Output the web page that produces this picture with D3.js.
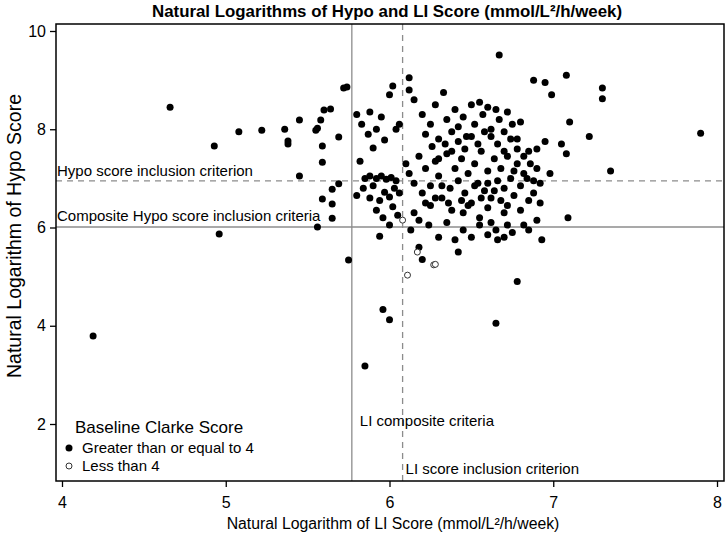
<!DOCTYPE html>
<html><head><meta charset="utf-8">
<script src="https://cdn.jsdelivr.net/npm/d3@7"></script>
<style>body{margin:0;background:#fff}svg{display:block}text{font-family:"Liberation Sans",Arial,sans-serif}</style>
</head><body><svg id="c" width="728" height="539"></svg>
<script>
const xTicks=[4,5,6,7,8];
const yTicks=[2,4,6,8,10];
// Baseline Clarke score >= 4 (filled)
const geX=[4.19,4.66,4.93,4.96,5.08,5.22,5.36,5.38,5.38,5.45,5.45,5.55,5.56,5.58,5.60,5.64,5.72,5.74,5.59,5.69,5.59,5.65,5.69,5.59,5.65,5.65,5.56,5.75,
5.80,5.83,5.87,5.88,5.90,5.92,5.95,5.97,6.00,6.02,6.04,6.06,5.82,5.85,5.88,5.92,5.95,5.98,6.01,6.04,5.80,5.84,5.88,5.90,5.94,5.97,6.00,6.03,6.06,5.92,5.96,6.02,5.94,6.00,6.05,5.85,5.96,6.00,
6.12,6.12,6.15,6.20,6.22,6.25,6.28,6.30,6.33,6.35,6.38,6.40,6.42,6.45,6.47,6.50,6.52,6.55,6.57,6.60,6.62,6.65,6.67,6.70,6.72,6.75,6.78,6.80,6.67,6.88,6.95,6.99,7.08,7.30,7.30,7.22,7.90,7.10,7.05,6.90,6.85,6.95,
6.10,6.12,6.15,6.18,6.20,6.22,6.25,6.28,6.30,6.32,6.35,6.37,6.40,6.42,6.44,6.46,6.48,6.50,6.52,6.54,6.56,6.58,6.60,6.62,6.64,6.66,6.68,6.70,6.72,6.74,6.76,6.78,6.80,6.82,6.85,6.88,6.92,6.98,7.08,7.35,6.45,6.55,6.60,6.38,6.25,6.15,6.70,6.80,
6.13,6.18,6.20,6.30,6.40,6.42,6.45,6.50,6.55,6.60,6.65,6.70,6.75,6.82,6.85,6.93,7.09,6.78,6.65,
6.62,6.66,6.70,6.74,6.78,6.82,6.86,6.90,6.58,6.54,6.50,6.46,6.42,6.38,6.34,6.30,6.26,6.60,6.64,6.68,6.72,6.76,6.84,6.88,6.92,6.56,6.52,6.48,6.44,6.36,6.32,6.28,6.22,6.18,6.24,6.35,6.62,6.72,6.90,6.66];
const geY=[3.79,8.45,7.66,5.87,7.95,7.98,8.00,7.76,7.70,8.19,7.05,7.98,8.02,8.19,8.39,8.41,8.84,8.86,7.66,7.84,7.33,6.78,6.89,6.58,6.48,6.19,6.01,5.34,
8.30,8.10,7.90,8.35,7.62,8.00,8.25,7.78,8.70,8.88,8.00,8.10,7.35,7.00,7.05,7.00,7.05,6.98,7.02,6.95,6.65,6.80,6.60,6.85,6.55,6.72,6.62,6.80,6.70,6.35,6.20,6.42,5.82,6.05,6.25,3.18,4.33,4.12,
9.05,8.80,8.60,8.30,7.90,8.10,8.50,7.80,8.75,8.20,7.95,8.40,8.05,8.25,7.85,8.50,8.10,8.55,8.30,8.45,8.00,8.40,8.20,7.95,8.35,8.10,7.80,8.15,9.51,9.00,8.95,8.70,9.10,8.84,8.62,7.85,7.92,8.15,7.70,7.60,7.55,7.75,
7.30,7.10,6.90,7.45,6.70,7.20,6.85,7.35,7.05,6.60,7.50,6.80,7.20,6.95,7.40,6.70,7.10,6.50,7.30,6.90,7.55,6.75,7.15,6.60,7.40,6.95,7.20,6.80,7.45,7.00,6.65,7.30,6.85,7.10,6.55,6.95,6.90,7.10,7.50,7.15,6.30,6.20,6.40,6.35,6.45,6.30,6.30,6.35,
5.95,5.60,5.35,5.80,5.75,5.50,5.95,5.80,6.05,5.85,5.95,5.80,5.90,6.05,5.95,5.75,6.20,4.90,4.05,
7.85,7.70,7.55,7.80,7.60,7.45,7.30,7.20,7.95,7.70,7.85,7.60,7.75,7.55,7.70,7.40,7.65,6.90,6.75,6.55,6.45,7.15,7.00,6.70,6.50,6.60,6.85,6.45,6.55,6.50,6.85,6.60,6.50,6.15,6.05,6.10,6.10,6.05,6.15,5.75];
// Baseline Clarke score < 4 (open)
const ltX=[6.08,6.17,6.27,6.28,6.11];
const ltY=[6.15,5.50,5.24,5.25,5.03];
const refLI={composite:5.77,inclusion:6.08};
const refHypo={composite:6.01,inclusion:6.95};

const svg=d3.select("#c");
const L=56,R=724,T=24,B=481;
const x=d3.scaleLinear().domain([3.9634,8.0427]).range([L,R]);
const y=d3.scaleLinear().domain([10.1425,0.8397]).range([T,B]);
const grey="#8c8c8c";

svg.append("text").attr("x",387).attr("y",17).attr("text-anchor","middle")
 .attr("font-weight","bold").attr("font-size",17).attr("textLength",470).attr("lengthAdjust","spacingAndGlyphs")
 .text("Natural Logarithms of Hypo and LI Score (mmol/L²/h/week)");

// reference lines
svg.append("line").attr("x1",x(refLI.composite)).attr("x2",x(refLI.composite)).attr("y1",T).attr("y2",B).attr("stroke",grey).attr("stroke-width",1.3);
svg.append("line").attr("x1",x(refLI.inclusion)).attr("x2",x(refLI.inclusion)).attr("y1",T).attr("y2",B).attr("stroke",grey).attr("stroke-width",1.3).attr("stroke-dasharray","6,5");
svg.append("line").attr("x1",L).attr("x2",R).attr("y1",y(refHypo.composite)).attr("y2",y(refHypo.composite)).attr("stroke",grey).attr("stroke-width",1.3);
svg.append("line").attr("x1",L).attr("x2",R).attr("y1",y(refHypo.inclusion)).attr("y2",y(refHypo.inclusion)).attr("stroke",grey).attr("stroke-width",1.3).attr("stroke-dasharray","6,5");

const lab=(tx,ty,s)=>svg.append("text").attr("x",tx).attr("y",ty).attr("font-size",15).attr("fill","#000").text(s);
lab(L+1,y(refHypo.inclusion)-5,"Hypo score inclusion criterion");
lab(L+1,y(refHypo.composite)-6,"Composite Hypo score inclusion criteria");
lab(x(refLI.composite)+8,426,"LI composite criteria");
lab(x(refLI.inclusion)+3,474,"LI score inclusion criterion");

// points
svg.append("g").selectAll("circle").data(geX.map((v,i)=>[v,geY[i]])).join("circle")
 .attr("cx",d=>x(d[0])).attr("cy",d=>y(d[1])).attr("r",3.5).attr("fill","#000");
svg.append("g").selectAll("circle").data(ltX.map((v,i)=>[v,ltY[i]])).join("circle")
 .attr("cx",d=>x(d[0])).attr("cy",d=>y(d[1])).attr("r",3).attr("fill","#fff").attr("stroke","#333").attr("stroke-width",1);

// frame
svg.append("rect").attr("x",L).attr("y",T).attr("width",R-L).attr("height",B-T).attr("fill","none").attr("stroke","#000").attr("stroke-width",1.5);

// axes
const xa=svg.append("g").attr("transform",`translate(0,${B})`).call(d3.axisBottom(x).tickValues(xTicks).tickSize(6).tickPadding(10).tickFormat(d3.format("d")));
const ya=svg.append("g").attr("transform",`translate(${L},0)`).call(d3.axisLeft(y).tickValues(yTicks).tickSize(6).tickPadding(4).tickFormat(d3.format("d")));
[xa,ya].forEach(a=>{a.select(".domain").remove();a.selectAll("line").attr("stroke","#000").attr("stroke-width",1.3);a.selectAll("text").attr("font-size",16).attr("fill","#000").style("font-family","Liberation Sans, Arial, sans-serif");});

svg.append("text").attr("x",393).attr("y",529).attr("text-anchor","middle").attr("font-size",15.8).text("Natural Logarithm of LI Score (mmol/L²/h/week)");
svg.append("text").attr("transform",`translate(21,236) rotate(-90)`).attr("text-anchor","middle").attr("font-size",19.5).text("Natural Logarithm of Hypo Score");

// legend
svg.append("text").attr("x",75).attr("y",433).attr("font-size",17).text("Baseline Clarke Score");
svg.append("circle").attr("cx",69).attr("cy",448).attr("r",3.5).attr("fill","#000");
svg.append("text").attr("x",82).attr("y",453).attr("font-size",15).text("Greater than or equal to 4");
svg.append("circle").attr("cx",69).attr("cy",466).attr("r",3).attr("fill","#fff").attr("stroke","#333").attr("stroke-width",1);
svg.append("text").attr("x",82).attr("y",471).attr("font-size",15).text("Less than 4");
</script></body></html>
